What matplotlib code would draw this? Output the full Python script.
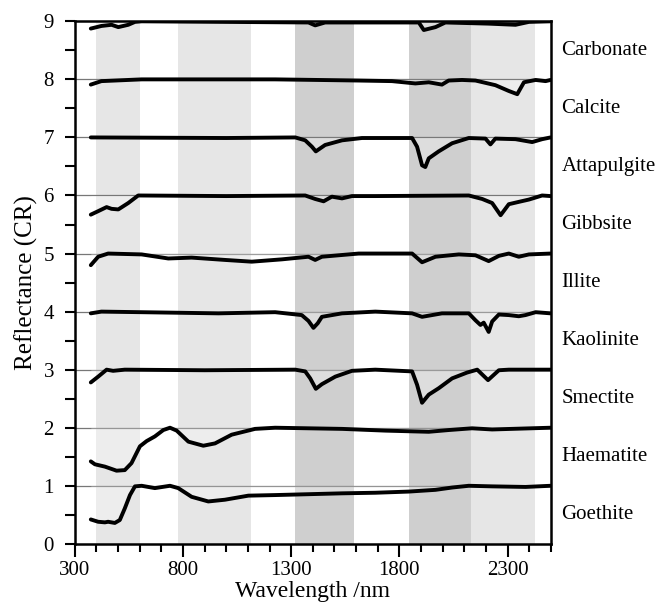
import numpy as np
import matplotlib
matplotlib.use('Agg')
import matplotlib.pyplot as plt
from matplotlib.ticker import MultipleLocator, FixedLocator

# Continuum-removed spectra, stacked bottom to top with offset = index
minerals = ['Goethite', 'Haematite', 'Smectite', 'Kaolinite', 'Illite',
            'Gibbsite', 'Attapulgite', 'Calcite', 'Carbonate']

goethite_x = [374, 408, 439, 454, 485, 508, 531, 555, 578, 609, 670, 740, 778,
              840, 917, 994, 1102, 1226, 1380, 1535, 1689, 1843, 1967, 2044,
              2121, 2229, 2383, 2499]
goethite_y = [0.42, 0.38, 0.37, 0.38, 0.36, 0.41, 0.61, 0.84, 0.99, 1.0, 0.96,
              1.0, 0.96, 0.81, 0.73, 0.76, 0.83, 0.84, 0.855, 0.87, 0.88,
              0.90, 0.93, 0.97, 1.0, 0.99, 0.98, 1.0]

haematite_x = [374, 393, 439, 493, 531, 562, 601, 632, 670, 709, 740, 771,
               825, 894, 948, 1025, 1133, 1226, 1380, 1535, 1735, 1936, 2028,
               2136, 2229, 2499]
haematite_y = [0.42, 0.37, 0.33, 0.26, 0.27, 0.39, 0.68, 0.77, 0.85, 0.96,
               1.0, 0.95, 0.76, 0.69, 0.73, 0.88, 0.98, 1.0, 0.99, 0.98, 0.95,
               0.93, 0.96, 0.99, 0.97, 1.0]

smectite_x = [374, 408, 447, 477, 531, 900, 1319, 1365, 1388, 1414, 1442,
              1504, 1581, 1689, 1859, 1882, 1905, 1936, 1982, 2044, 2113, 2160,
              2210, 2260, 2306, 2499]
smectite_y = [0.78, 0.88, 1.0, 0.98, 1.0, 0.99, 1.0, 0.97, 0.85, 0.67, 0.75,
              0.88, 0.98, 1.0, 0.97, 0.74, 0.43, 0.57, 0.68, 0.85, 0.95, 1.0,
              0.82, 0.99, 1.0, 1.0]

kaolinite_x = [374, 423, 964, 1226, 1349, 1380, 1403, 1423, 1442, 1535, 1689,
               1859, 1905, 1997, 2121, 2152, 2175, 2190, 2213, 2229, 2260,
               2306, 2352, 2383, 2430, 2499]
kaolinite_y = [0.97, 1.0, 0.97, 0.99, 0.94, 0.84, 0.72, 0.80, 0.91, 0.97,
               1.0, 0.97, 0.91, 0.97, 0.97, 0.85, 0.77, 0.81, 0.65, 0.83,
               0.95, 0.94, 0.92, 0.94, 0.99, 0.97]

illite_x = [374, 408, 454, 609, 732, 840, 994, 1118, 1257, 1380, 1411, 1442,
            1612, 1859, 1905, 1967, 2075, 2152, 2213, 2260, 2306, 2352, 2399,
            2499]
illite_y = [0.80, 0.945, 1.0, 0.985, 0.915, 0.93, 0.89, 0.86, 0.90, 0.945,
            0.89, 0.945, 1.0, 1.0, 0.85, 0.945, 0.985, 0.97, 0.87, 0.96, 1.0,
            0.945, 0.985, 1.0]

gibbsite_x = [374, 408, 447, 470, 501, 547, 593, 1000, 1365, 1411, 1450,
              1488, 1535, 1581, 1689, 2121, 2183, 2229, 2268, 2306, 2352,
              2399, 2460, 2499]
gibbsite_y = [0.67, 0.73, 0.80, 0.77, 0.76, 0.87, 1.0, 0.99, 1.0, 0.94,
              0.90, 0.98, 0.95, 0.99, 0.99, 1.0, 0.94, 0.87, 0.66, 0.85,
              0.89, 0.93, 1.0, 0.99]

attapulgite_x = [374, 1000, 1319, 1365, 1396, 1414, 1457, 1535, 1627, 1859,
                 1882, 1905, 1920, 1936, 1982, 2044, 2121, 2198, 2221, 2244,
                 2337, 2414, 2460, 2499]
attapulgite_y = [1.0, 0.99, 1.0, 0.95, 0.84, 0.76, 0.87, 0.95, 0.99, 0.99,
                 0.84, 0.52, 0.49, 0.64, 0.76, 0.90, 0.99, 0.98, 0.88, 0.98,
                 0.97, 0.92, 0.97, 1.0]

calcite_x = [374, 423, 609, 1226, 1612, 1766, 1874, 1936, 1997, 2028, 2090,
             2152, 2244, 2306, 2345, 2376, 2430, 2476, 2499]
calcite_y = [0.91, 0.97, 1.0, 1.0, 0.98, 0.97, 0.93, 0.95, 0.91, 0.98, 0.99,
             0.98, 0.90, 0.80, 0.745, 0.95, 0.99, 0.97, 0.99]

carbonate_x = [374, 423, 470, 501, 547, 578, 609, 1380, 1411, 1457, 1890,
               1913, 1967, 2013, 2213, 2337, 2399, 2499]
carbonate_y = [0.875, 0.92, 0.94, 0.90, 0.94, 0.99, 1.0, 0.98, 0.93, 0.98,
               0.98, 0.85, 0.90, 0.98, 0.96, 0.94, 0.99, 1.0]

spectra_x = [goethite_x, haematite_x, smectite_x, kaolinite_x, illite_x,
             gibbsite_x, attapulgite_x, calcite_x, carbonate_x]
spectra_y = [goethite_y, haematite_y, smectite_y, kaolinite_y, illite_y,
             gibbsite_y, attapulgite_y, calcite_y, carbonate_y]

# Shaded wavelength windows (start, end, colour)
band_start = [400, 775, 1320, 1845, 2130]
band_end = [600, 1115, 1590, 2130, 2425]
band_color = ['#e6e6e6', '#e6e6e6', '#cfcfcf', '#cfcfcf', '#e6e6e6']

x_ticks = [300, 800, 1300, 1800, 2300]

plt.rcParams['font.family'] = ['Liberation Serif', 'DejaVu Serif']

fig = plt.figure(figsize=(6.62, 6.09), dpi=100)
ax = fig.add_axes([0.113, 0.107, 0.719, 0.858])

for s, e, c in zip(band_start, band_end, band_color):
    ax.axvspan(s, e, color=c, lw=0, zorder=0)

for k in range(1, 9):
    ax.axhline(k, color='#777777', lw=0.9, zorder=1)

for i, name in enumerate(minerals):
    xs = np.array(spectra_x[i])
    ys = np.array(spectra_y[i]) + i
    ax.fill_between(xs, ys, i + 1, color='white', alpha=0.3, lw=0, zorder=1)
    ax.plot(xs, ys, color='black', lw=2.8, zorder=3,
            solid_capstyle='round', solid_joinstyle='round')
    ax.text(2550, i + 0.5, name, fontsize=15, va='center', ha='left',
            clip_on=False)

ax.set_xlim(300, 2500)
ax.set_ylim(0, 9)
ax.xaxis.set_major_locator(FixedLocator(x_ticks))
ax.xaxis.set_minor_locator(MultipleLocator(100))
ax.yaxis.set_major_locator(MultipleLocator(1))
ax.yaxis.set_minor_locator(MultipleLocator(0.5))

ax.tick_params(axis='x', which='major', direction='out', length=9, width=1.5,
               labelsize=15, top=False, pad=3)
ax.tick_params(axis='x', which='minor', direction='out', length=5.5, width=1.5,
               top=False)
ax.tick_params(axis='y', which='both', direction='out', length=7, width=1.5,
               labelsize=15, right=False, pad=8)
for sp in ax.spines.values():
    sp.set_linewidth(1.8)

ax.set_xlabel('Wavelength /nm', fontsize=17, labelpad=1)
ax.set_ylabel('Reflectance (CR)', fontsize=18, labelpad=4)

fig.savefig('out.png', dpi=100)
